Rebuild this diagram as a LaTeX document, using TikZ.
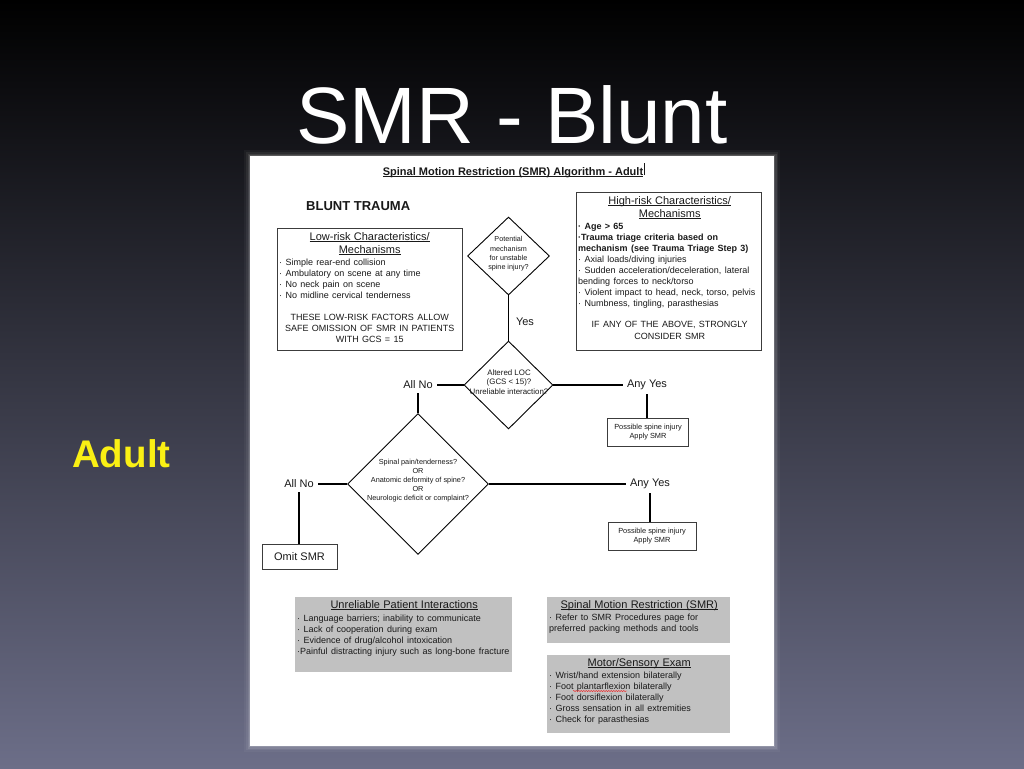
\documentclass[tikz,border=0pt]{standalone}
\usepackage{fontspec}
\setmainfont{Liberation Sans}
\usetikzlibrary{shapes.geometric,decorations.pathmorphing}
\definecolor{bgtop}{RGB}{0,0,0}
\definecolor{bgmid}{RGB}{36,38,58}
\definecolor{bgbot}{RGB}{108,110,136}
\definecolor{ink}{RGB}{25,25,25}
\definecolor{edge}{RGB}{60,60,60}
\definecolor{boxgray}{RGB}{193,193,193}
\definecolor{adultyellow}{RGB}{250,240,20}
\newcommand\fs[2]{\fontsize{#1}{#2}\selectfont}
\newcommand\ulx[1]{\leavevmode\setbox0\hbox{#1}\rlap{\rule[-1.6pt]{\wd0}{0.6pt}}\box0}
\tikzset{
  flow/.style={draw=black, line width=1.1pt},
  wbox/.style={draw=edge, line width=0.8pt, fill=white, inner sep=0pt, anchor=north west},
  gbox/.style={fill=boxgray, draw=none, inner sep=0pt, anchor=north west},
  dia/.style={diamond, draw=black, line width=0.9pt, inner sep=0pt, fill=white},
  lbl/.style={font=\fs{11}{13}, inner sep=4pt, text=ink},
  sbox/.style={draw=edge, line width=0.8pt, fill=white, inner sep=0pt, align=center, text=ink},
  boxtext/.style={anchor=north west, inner sep=0pt, text=ink, execute at begin node={\parindent=0pt}},
  diatext/.style={font=\fs{7}{9}, align=center, text=ink, inner sep=0pt}
}
\begin{document}
\begin{tikzpicture}[x=1pt,y=-1pt]
\useasboundingbox (0,0) rectangle (1024,768);
\shade[top color=bgtop, middle color=bgmid, bottom color=bgbot] (0,0) rectangle (1024,768);

% title and side label
\node[anchor=base, font=\fs{80}{90}, text=white, inner sep=0pt] (title) at (512,143) {SMR - Blunt};
\node[anchor=base west, font=\bfseries\fs{38.5}{40}, text=adultyellow, inner sep=0pt] (adult) at (72,467) {Adult};

% page
\foreach \d/\o in {6/0.04,4/0.06,2.5/0.09,1.2/0.14}
  \fill[white, opacity=\o] (250-\d,156-\d) rectangle (774+\d,746+\d);
\fill[white] (250,156) rectangle (774,746);

% header
\node[anchor=base, font=\bfseries\fs{11}{13}, text=ink, inner sep=0pt] (hdr) at (513,175) {\ulx{Spinal Motion Restriction (SMR) Algorithm - Adult}};
\draw[line width=0.5pt, ink] (hdr.east) ++(1,-9) -- ++(0,12);
\node[anchor=base west, font=\bfseries\fs{13}{15}, text=ink, inner sep=0pt] (blunt) at (306,210) {BLUNT TRAUMA};

% low-risk box
\node[wbox, minimum width=185pt, minimum height=122pt] (lowbox) at (277,228) {};
\node[boxtext, text width=181pt] (lowtxt) at (279,232) {%
{\centering\fs{11}{13}\ulx{Low-risk Characteristics/}\\\ulx{Mechanisms}\par}
\vspace{1pt}
{\raggedright\fs{9}{11}· Simple rear-end collision\\· Ambulatory on scene at any time\\· No neck pain on scene\\· No midline cervical tenderness\par}
\vspace{11pt}
{\centering\fs{9}{11}THESE LOW-RISK FACTORS ALLOW\\SAFE OMISSION OF SMR IN PATIENTS\\WITH GCS = 15\par}};

% high-risk box
\node[wbox, minimum width=185pt, minimum height=158pt] (highbox) at (576,192) {};
\node[boxtext, text width=183pt] (hightxt) at (578,196) {%
{\centering\fs{11}{13}\ulx{High-risk Characteristics/}\\\ulx{Mechanisms}\par}
\vspace{1pt}
{\raggedright\fs{9}{11}\textbf{· Age > 65}\\\textbf{·Trauma triage criteria based on}\\\textbf{mechanism (see Trauma Triage Step 3)}\\· Axial loads/diving injuries\\· Sudden acceleration/deceleration, lateral\\bending forces to neck/torso\\· Violent impact to head, neck, torso, pelvis\\· Numbness, tingling, parasthesias\par}
\vspace{9pt}
{\centering\fs{9}{12}IF ANY OF THE ABOVE, STRONGLY\\CONSIDER SMR\par}};

% diamonds
\node[dia, minimum width=82pt, minimum height=78pt] (d1) at (508.5,256) {};
\node[diatext, font=\fs{7.2}{9.3}] (d1t) at (508.5,254) {Potential\\mechanism\\for unstable\\spine injury?};
\node[dia, minimum width=89pt, minimum height=88pt] (d2) at (508.5,385) {};
\node[diatext, font=\fs{7.9}{9.2}] (d2t) at (509,382) {Altered LOC\\(GCS < 15)?\\Unreliable interaction?};
\node[dia, minimum width=141pt, minimum height=141pt] (d3) at (418,484) {};
\node[diatext, font=\fs{7.3}{9}] (d3t) at (418,481) {Spinal pain/tenderness?\\OR\\Anatomic deformity of spine?\\OR\\Neurologic deficit or complaint?};

% labels
\node[lbl] (yes) at (525,322) {Yes};
\node[lbl] (allno1) at (418,385) {All No};
\node[lbl] (anyyes1) at (647,385) {Any Yes};
\node[lbl] (allno2) at (299,484) {All No};
\node[lbl] (anyyes2) at (650,484) {Any Yes};

% outcome boxes
\node[sbox, font=\fs{7.4}{9}, minimum width=81pt, minimum height=28pt] (spine1) at (648,432) {Possible spine injury\\Apply SMR};
\node[sbox, font=\fs{7.4}{9}, minimum width=88pt, minimum height=28pt] (spine2) at (652,536) {Possible spine injury\\Apply SMR};
\node[sbox, font=\fs{11}{13}, minimum width=75pt, minimum height=25pt] (omit) at (299.5,556.5) {Omit SMR};

% connectors
\draw[flow] (d1.south) -- (d2.north);
\draw[flow] (d2.west) -- (allno1.east);
\draw[flow] (allno1.south) -- (allno1.south |- d3.north);
\draw[flow] (d2.east) -- (anyyes1.west);
\draw[flow] (anyyes1.south) -- (anyyes1.south |- spine1.north);
\draw[flow] (d3.west) -- (allno2.east);
\draw[flow] (allno2.south) -- (allno2.south |- omit.north);
\draw[flow] (d3.east) -- (anyyes2.west);
\draw[flow] (anyyes2.south) -- (anyyes2.south |- spine2.north);

% gray info boxes
\node[gbox, minimum width=217pt, minimum height=75pt] (unrel) at (295,597) {};
\node[boxtext, text width=214pt] (unrelt) at (297,600) {%
{\centering\fs{11}{13}\ulx{Unreliable Patient Interactions}\par}
\vspace{2pt}
{\raggedright\fs{9}{11}· Language barriers; inability to communicate\\· Lack of cooperation during exam\\· Evidence of drug/alcohol intoxication\\·Painful distracting injury such as long-bone fracture\par}};

\node[gbox, minimum width=183pt, minimum height=46pt] (smr) at (547,597) {};
\node[boxtext, text width=180pt] (smrt) at (549,600) {%
{\centering\fs{11}{13}\ulx{Spinal Motion Restriction (SMR)}\par}
\vspace{1pt}
{\raggedright\fs{9}{11}· Refer to SMR Procedures page for\\preferred packing methods and tools\par}};

\node[gbox, minimum width=183pt, minimum height=78pt] (motor) at (547,655) {};
\node[boxtext, text width=180pt] (motort) at (549,658) {%
{\centering\fs{11}{13}\ulx{Motor/Sensory Exam}\par}
\vspace{1pt}
{\raggedright\fs{9}{11}· Wrist/hand extension bilaterally\\· Foot plantarflexion bilaterally\\· Foot dorsiflexion bilaterally\\· Gross sensation in all extremities\\· Check for parasthesias\par}};
\draw[red, line width=0.4pt, decorate, decoration={snake, amplitude=0.5pt, segment length=2.5pt}] (573,691) -- (627,691);
\end{tikzpicture}
\end{document}
